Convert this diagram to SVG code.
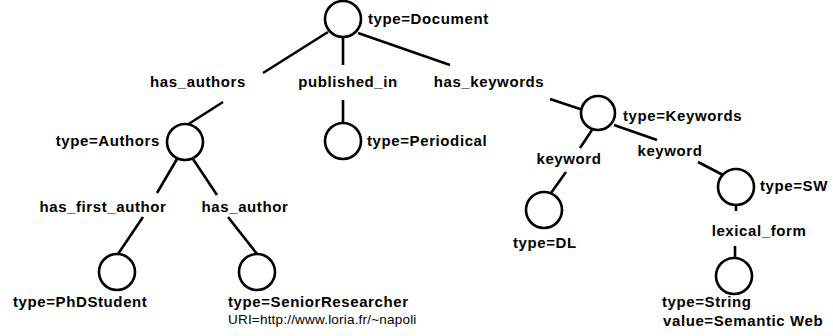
<svg xmlns="http://www.w3.org/2000/svg" width="833" height="336" viewBox="0 0 833 336">
<style>
.n{fill:#fff;stroke:#000;stroke-width:2.6}
.e line{stroke:#000;stroke-width:2.6;stroke-linecap:butt}
text{font-family:"Liberation Sans",Arial,sans-serif;font-size:15px;font-weight:bold;letter-spacing:0.6px;fill:#000}
.m{text-anchor:middle}
.r{text-anchor:end}
.u{font-weight:normal;font-size:13.5px;letter-spacing:0.2px}
</style>
<rect width="833" height="336" fill="#fff"/>
<g id="edges" class="e">
<line x1="328" y1="32" x2="263" y2="73"/>
<line x1="343" y1="37" x2="343" y2="65"/>
<line x1="358" y1="33" x2="450" y2="65"/>
<line x1="223" y1="102" x2="187" y2="125"/>
<line x1="343" y1="100" x2="343" y2="123"/>
<line x1="550" y1="99" x2="583" y2="110"/>
<line x1="177" y1="159" x2="157" y2="193"/>
<line x1="193" y1="159" x2="217" y2="195"/>
<line x1="143" y1="217" x2="118" y2="254"/>
<line x1="228" y1="217" x2="257" y2="254"/>
<line x1="592" y1="130" x2="580" y2="148"/>
<line x1="614" y1="125" x2="657" y2="140"/>
<line x1="566" y1="172" x2="551" y2="193"/>
<line x1="698" y1="162" x2="723" y2="175"/>
<line x1="736" y1="205" x2="736" y2="211"/>
<line x1="735" y1="246" x2="735" y2="258"/>
</g>
<g id="edge-labels">
<text x="198" y="87" class="m">has_authors</text>
<text x="348" y="87" class="m">published_in</text>
<text x="489" y="87" class="m">has_keywords</text>
<text x="103" y="212" class="m">has_first_author</text>
<text x="245" y="212" class="m">has_author</text>
<text x="569" y="164" class="m">keyword</text>
<text x="670" y="156" class="m">keyword</text>
<text x="759" y="236" class="m">lexical_form</text>
</g>
<g id="document"><circle class="n" cx="343" cy="19" r="18"/><text x="368" y="24">type=Document</text></g>
<g id="authors"><circle class="n" cx="185" cy="142" r="18"/><text x="160" y="146" class="r">type=Authors</text></g>
<g id="periodical"><circle class="n" cx="343" cy="141" r="18"/><text x="367" y="146">type=Periodical</text></g>
<g id="keywords"><circle class="n" cx="598" cy="113" r="17"/><text x="623" y="121">type=Keywords</text></g>
<g id="phdstudent"><circle class="n" cx="117" cy="272" r="18"/><text x="13" y="307">type=PhDStudent</text></g>
<g id="senior"><circle class="n" cx="257" cy="272" r="18"/><text x="228" y="307">type=SeniorResearcher</text><text x="228" y="324" class="u">URI=http://www.loria.fr/~napoli</text></g>
<g id="dl"><circle class="n" cx="544" cy="210" r="18"/><text x="513" y="248">type=DL</text></g>
<g id="sw"><circle class="n" cx="736" cy="187" r="18"/><text x="760" y="191">type=SW</text></g>
<g id="string"><circle class="n" cx="734" cy="276" r="18"/><text x="662" y="307">type=String</text><text x="663" y="326">value=Semantic Web</text></g>
</svg>
